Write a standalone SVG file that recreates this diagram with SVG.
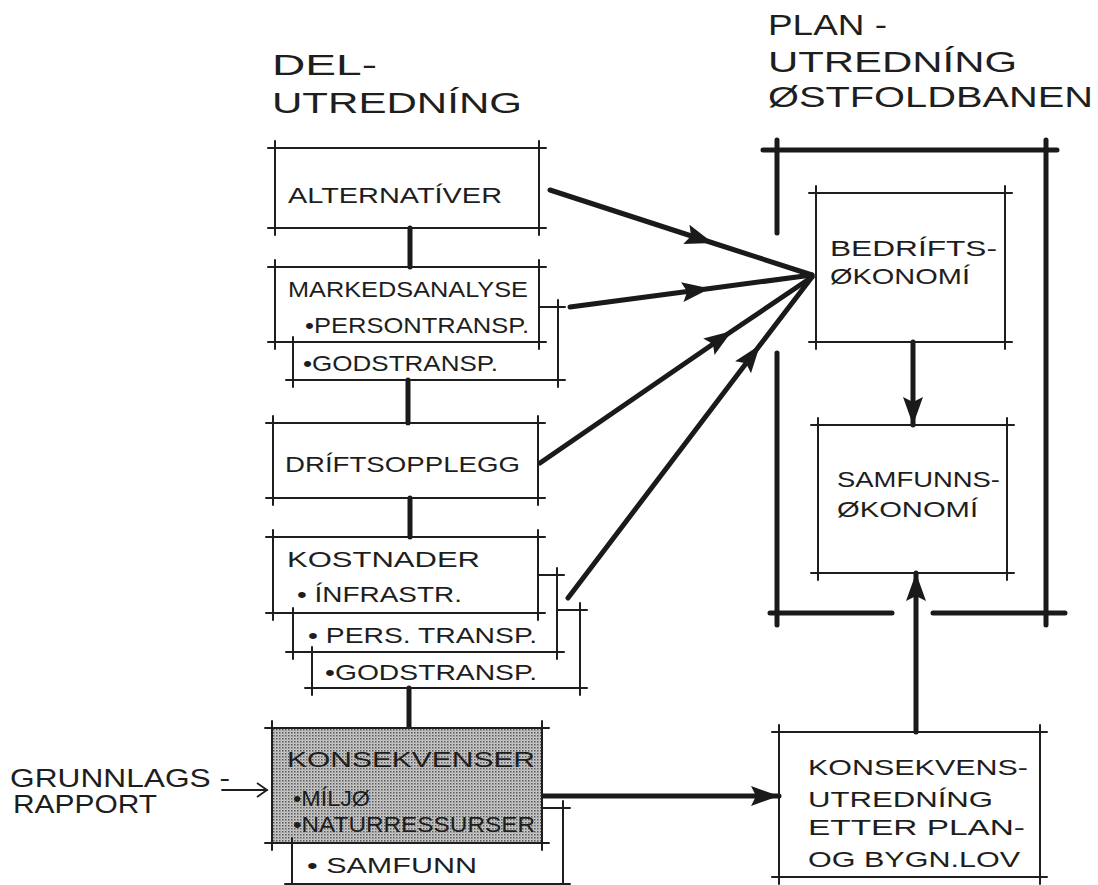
<svg xmlns="http://www.w3.org/2000/svg" width="1098" height="885" viewBox="0 0 1098 885">
<style>
.box{fill:none;stroke:#1e1e1e;stroke-width:2;stroke-linecap:round}
.thick{fill:none;stroke:#1a1a1a;stroke-width:5;stroke-linecap:round}
.thin{fill:none;stroke:#1e1e1e;stroke-width:1.8;stroke-linecap:round}
.t{font-family:"Liberation Sans",Arial,sans-serif;font-size:22px;fill:#1e1e1e}
.h{font-size:30px}
.g{font-size:25px}
</style>
<defs>
<marker id="ah" markerUnits="userSpaceOnUse" markerWidth="30" markerHeight="22" refX="28" refY="11" orient="auto">
<path d="M0,1 L28,11 L0,21 L5,11 z" fill="#1a1a1a"/>
</marker>
<marker id="oa" markerUnits="userSpaceOnUse" markerWidth="14" markerHeight="16" refX="12" refY="8" orient="auto">
<path d="M2,1 L12,8 L2,15" fill="none" stroke="#1e1e1e" stroke-width="1.8"/>
</marker>
<pattern id="dots" width="3" height="3" patternUnits="userSpaceOnUse">
<rect width="3" height="3" fill="#cccccc"/>
<rect width="1.5" height="1.5" fill="#555555"/>
<rect x="1.5" y="1.5" width="1" height="1" fill="#888888"/>
</pattern>
</defs>

<g id="headings">
<text class="t h" x="272" y="75" textLength="105" lengthAdjust="spacingAndGlyphs">DEL-</text>
<text class="t h" x="272" y="113" textLength="250" lengthAdjust="spacingAndGlyphs">UTREDNÍNG</text>
<text class="t h" x="768" y="35" textLength="119" lengthAdjust="spacingAndGlyphs">PLAN -</text>
<text class="t h" x="768" y="72" textLength="249" lengthAdjust="spacingAndGlyphs">UTREDNÍNG</text>
<text class="t h" x="768" y="107" textLength="325" lengthAdjust="spacingAndGlyphs">ØSTFOLDBANEN</text>
</g>

<g id="frame">
<path class="thick" d="M763 150H1057M777 140V233M777 353V625M770 613H892M933 613H1065M1046 140V625"/>
</g>

<g id="connectors">
<path class="thick" d="M410 228V267M408 380V423M410 498V537M409 688V728"/>
<path class="thick" d="M550 190L713 243L812 275" marker-mid="url(#ah)"/>
<path class="thick" d="M570 307L710 288.5L812 275" marker-mid="url(#ah)"/>
<path class="thick" d="M540 463L732 331L812 277" marker-mid="url(#ah)"/>
<path class="thick" d="M568 598L760 345L812 277" marker-mid="url(#ah)"/>
<path class="thick" d="M913 342V425" marker-end="url(#ah)"/>
<path class="thick" d="M916 732V573" marker-end="url(#ah)"/>
<path class="thick" d="M542 796H779" marker-end="url(#ah)"/>
<path class="thin" d="M222 790H267" marker-end="url(#oa)"/>
</g>

<g id="alternativer">
<path class="box" d="M268 148H546M268 228H546M275 141V235M539 141V235"/>
<text class="t" x="288" y="203" textLength="214" lengthAdjust="spacingAndGlyphs">ALTERNATÍVER</text>
</g>

<g id="markedsanalyse">
<path class="box" d="M268 267H546M268 342H546M275 260V349M539 260V349"/>
<path class="box" d="M293 337V387M286 380H565M558 300V387M539 307H565"/>
<text class="t" x="288" y="297" textLength="240" lengthAdjust="spacingAndGlyphs">MARKEDSANALYSE</text>
<text class="t" x="305" y="333" textLength="224" lengthAdjust="spacingAndGlyphs">•PERSONTRANSP.</text>
<text class="t" x="303" y="371" textLength="195" lengthAdjust="spacingAndGlyphs">•GODSTRANSP.</text>
</g>

<g id="driftsopplegg">
<path class="box" d="M266 423H545M266 498H545M273 416V505M538 416V505"/>
<text class="t" x="285" y="472" textLength="235" lengthAdjust="spacingAndGlyphs">DRÍFTSOPPLEGG</text>
</g>

<g id="kostnader">
<path class="box" d="M266 537H545M266 613H545M273 530V620M538 530V620"/>
<path class="box" d="M293 608V659M286 652H564M557 568V659M538 575H564"/>
<path class="box" d="M312 647V695M305 688H587M580 603V695M557 610H587"/>
<text class="t" x="287" y="567" textLength="193" lengthAdjust="spacingAndGlyphs">KOSTNADER</text>
<text class="t" x="297" y="602" textLength="165" lengthAdjust="spacingAndGlyphs">• ÍNFRASTR.</text>
<text class="t" x="308" y="643" textLength="229" lengthAdjust="spacingAndGlyphs">• PERS. TRANSP.</text>
<text class="t" x="325" y="680" textLength="212" lengthAdjust="spacingAndGlyphs">•GODSTRANSP.</text>
</g>

<g id="konsekvenser">
<rect x="272" y="728" width="270" height="115" fill="url(#dots)"/>
<path class="box" d="M265 728H549M265 843H549M272 721V850M542 721V850"/>
<path class="box" d="M292 838V885M563 801V885M542 808H570M285 884H570"/>
<text class="t" x="287" y="767" textLength="248" lengthAdjust="spacingAndGlyphs">KONSEKVENSER</text>
<text class="t" x="293" y="806" textLength="77" lengthAdjust="spacingAndGlyphs">•MÍLJØ</text>
<text class="t" x="293" y="832" textLength="242" lengthAdjust="spacingAndGlyphs">•NATURRESSURSER</text>
<text class="t" x="307" y="873" textLength="170" lengthAdjust="spacingAndGlyphs">• SAMFUNN</text>
</g>

<g id="grunnlagsrapport">
<text class="t g" x="10" y="787" textLength="220" lengthAdjust="spacingAndGlyphs">GRUNNLAGS -</text>
<text class="t g" x="13" y="813" textLength="144" lengthAdjust="spacingAndGlyphs">RAPPORT</text>
</g>

<g id="bedriftsokonomi">
<path class="box" d="M809 193H1012M809 342H1012M816 186V349M1005 186V349"/>
<text class="t" x="830" y="256" textLength="167" lengthAdjust="spacingAndGlyphs">BEDRÍFTS-</text>
<text class="t" x="830" y="284" textLength="140" lengthAdjust="spacingAndGlyphs">ØKONOMÍ</text>
</g>

<g id="samfunnsokonomi">
<path class="box" d="M811 425H1014M811 573H1014M818 418V580M1007 418V580"/>
<text class="t" x="837" y="487" textLength="163" lengthAdjust="spacingAndGlyphs">SAMFUNNS-</text>
<text class="t" x="837" y="517" textLength="141" lengthAdjust="spacingAndGlyphs">ØKONOMÍ</text>
</g>

<g id="konsekvensutredning">
<path class="box" d="M772 732H1047M772 877H1047M779 725V884M1040 725V884"/>
<text class="t" x="808" y="775" textLength="220" lengthAdjust="spacingAndGlyphs">KONSEKVENS-</text>
<text class="t" x="808" y="807" textLength="185" lengthAdjust="spacingAndGlyphs">UTREDNÍNG</text>
<text class="t" x="808" y="835" textLength="217" lengthAdjust="spacingAndGlyphs">ETTER PLAN-</text>
<text class="t" x="808" y="867" textLength="212" lengthAdjust="spacingAndGlyphs">OG BYGN.LOV</text>
</g>
</svg>
